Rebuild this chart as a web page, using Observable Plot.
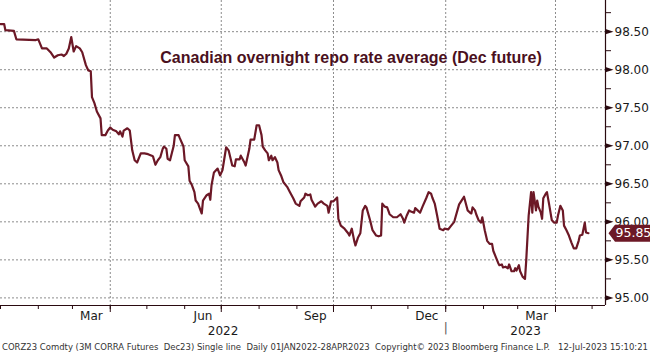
<!DOCTYPE html>
<html><head><meta charset="utf-8">
<script src="https://cdn.jsdelivr.net/npm/d3@7"></script>
<script src="https://cdn.jsdelivr.net/npm/@observablehq/plot@0.6"></script>
<style>
html,body{margin:0;padding:0;background:#fff;width:650px;height:355px;overflow:hidden;position:relative}
#footer{position:absolute;left:2px;top:341px;font-family:"DejaVu Sans";font-size:9.5px;color:#333;white-space:pre;transform-origin:0 0;line-height:12px}
</style></head><body>
<div id="chart"></div>
<div id="footer"></div>
<script>
const titleText = "Canadian overnight repo rate average (Dec future)";
const footerText = "CORZ23 Comdty (3M CORRA Futures  Dec23) Single line  Daily 01JAN2022-28APR2023  Copyright\u00A9 2023 Bloomberg Finance L.P.   12-Jul-2023 15:10:21";

const dates = [
 "2022-01-01","2022-01-04","2022-01-05","2022-01-12","2022-01-14","2022-01-30",
 "2022-02-01","2022-02-04","2022-02-08","2022-02-11","2022-02-14","2022-02-17","2022-02-20","2022-02-22","2022-02-24","2022-02-26","2022-02-28",
 "2022-03-02","2022-03-04","2022-03-07","2022-03-09","2022-03-12","2022-03-14","2022-03-16","2022-03-17","2022-03-19","2022-03-21","2022-03-24","2022-03-25","2022-03-28","2022-03-30",
 "2022-04-01","2022-04-03","2022-04-06","2022-04-08","2022-04-09","2022-04-11","2022-04-12","2022-04-15","2022-04-17","2022-04-19","2022-04-21","2022-04-23","2022-04-26","2022-04-29",
 "2022-05-02","2022-05-05","2022-05-06","2022-05-08","2022-05-10","2022-05-12","2022-05-14","2022-05-15","2022-05-17","2022-05-18","2022-05-20","2022-05-23","2022-05-24","2022-05-27","2022-05-28","2022-05-31",
 "2022-06-01","2022-06-04","2022-06-05","2022-06-07","2022-06-09","2022-06-10","2022-06-12","2022-06-14","2022-06-15","2022-06-16","2022-06-19","2022-06-21","2022-06-22","2022-06-23","2022-06-25","2022-06-28","2022-06-30",
 "2022-07-02","2022-07-03","2022-07-05","2022-07-07","2022-07-10","2022-07-12","2022-07-13","2022-07-16","2022-07-17","2022-07-20","2022-07-21","2022-07-24","2022-07-25","2022-07-28","2022-07-30",
 "2022-08-01","2022-08-03","2022-08-04","2022-08-06","2022-08-08","2022-08-09","2022-08-11","2022-08-12","2022-08-14","2022-08-16","2022-08-17","2022-08-19","2022-08-21","2022-08-24","2022-08-26","2022-08-29","2022-08-31",
 "2022-09-03","2022-09-04","2022-09-07","2022-09-08","2022-09-10","2022-09-12","2022-09-13","2022-09-16","2022-09-18","2022-09-21","2022-09-23","2022-09-26","2022-09-27","2022-09-29",
 "2022-10-01","2022-10-04","2022-10-05","2022-10-07","2022-10-10","2022-10-11","2022-10-13","2022-10-14","2022-10-16","2022-10-18","2022-10-19","2022-10-21","2022-10-23","2022-10-25","2022-10-27","2022-10-28","2022-10-31",
 "2022-11-02","2022-11-05","2022-11-07","2022-11-09","2022-11-10","2022-11-12","2022-11-14","2022-11-16","2022-11-19","2022-11-22","2022-11-25","2022-11-27","2022-11-28","2022-11-30",
 "2022-12-02","2022-12-03","2022-12-06","2022-12-07","2022-12-09","2022-12-11","2022-12-13","2022-12-16","2022-12-18","2022-12-20","2022-12-21","2022-12-23","2022-12-25","2022-12-27","2022-12-30","2022-12-31",
 "2023-01-03","2023-01-05","2023-01-08","2023-01-09","2023-01-12","2023-01-14","2023-01-16","2023-01-17","2023-01-19","2023-01-21","2023-01-22","2023-01-23","2023-01-25","2023-01-26","2023-01-28","2023-01-30","2023-01-31",
 "2023-02-02","2023-02-04","2023-02-06","2023-02-08","2023-02-09","2023-02-11","2023-02-13","2023-02-14","2023-02-16","2023-02-17","2023-02-19","2023-02-21","2023-02-22","2023-02-24","2023-02-26","2023-02-27","2023-02-28",
 "2023-03-02","2023-03-03","2023-03-05","2023-03-07","2023-03-08","2023-03-10","2023-03-12","2023-03-13","2023-03-14","2023-03-16","2023-03-17","2023-03-18","2023-03-20","2023-03-21","2023-03-22","2023-03-24","2023-03-25","2023-03-27","2023-03-29","2023-03-31",
 "2023-04-02","2023-04-03","2023-04-05","2023-04-07","2023-04-08","2023-04-10","2023-04-12","2023-04-14","2023-04-16","2023-04-18","2023-04-20","2023-04-21","2023-04-23","2023-04-25","2023-04-26","2023-04-28"
];
const values = [
 98.60,98.60,98.52,98.51,98.40,98.39,
 98.40,98.28,98.28,98.23,98.16,98.19,98.20,98.18,98.21,98.28,98.43,
 98.24,98.31,98.28,98.23,98.06,97.99,97.98,97.64,97.56,97.45,97.36,97.14,97.14,97.20,
 97.24,97.21,97.19,97.15,97.19,97.12,97.20,97.23,97.20,96.94,96.81,96.78,96.90,96.90,
 96.89,96.87,96.86,96.75,96.81,96.85,96.96,96.99,96.96,96.83,96.81,97.00,97.14,97.14,97.10,96.99,
 96.81,96.73,96.54,96.48,96.39,96.28,96.24,96.15,96.11,96.28,96.35,96.37,96.29,96.48,96.65,96.70,96.61,
 96.68,96.78,96.98,96.94,96.74,96.73,96.82,96.82,96.87,96.78,96.74,96.96,97.08,97.08,97.27,
 97.27,97.14,96.99,96.94,96.90,96.81,96.87,96.81,96.85,96.78,96.68,96.61,96.52,96.46,96.40,96.31,96.24,
 96.21,96.27,96.32,96.37,96.35,96.36,96.29,96.20,96.24,96.27,96.24,96.21,96.12,96.27,
 96.27,96.32,96.04,95.95,95.91,95.89,95.85,95.82,95.91,95.75,95.69,95.79,95.85,96.15,96.21,96.19,96.02,
 95.89,95.82,95.81,95.82,96.24,96.20,96.19,96.10,96.06,96.06,96.10,96.04,95.99,96.08,
 96.15,96.14,96.12,96.18,96.15,96.12,96.20,96.31,96.39,96.37,96.32,96.24,96.08,95.91,95.89,95.91,
 95.90,95.94,96.00,96.06,96.23,96.28,96.33,96.27,96.15,96.12,96.11,96.19,96.15,96.10,96.02,95.99,96.06,
 95.89,95.75,95.71,95.71,95.62,95.54,95.46,95.43,95.44,95.40,95.41,95.39,95.44,95.35,95.35,95.39,95.36,
 95.43,95.35,95.28,95.25,95.49,96.08,96.39,96.12,96.39,96.15,96.28,96.20,96.12,96.04,96.31,96.37,96.39,96.21,96.02,95.99,
 95.99,96.08,96.21,96.15,95.95,95.89,95.82,95.73,95.65,95.65,95.75,95.82,95.83,95.99,95.86,95.85
];
const yTicks = [95.0, 95.5, 96.0, 96.5, 97.0, 97.5, 98.0, 98.5];
const yMinorTicks = [95.25, 95.75, 96.25, 96.75, 97.25, 97.75, 98.25, 98.75];
const years = [2022, 2023];

const parse = d3.utcParse("%Y-%m-%d");
const n = Math.min(dates.length, values.length);
const data = d3.range(n).map(i => ({date: parse(dates[i]), value: values[i]}));
const last = data[data.length - 1];

const xDomain = [parse("2022-01-01"), parse("2023-05-12")];
const yDomain = [94.9, 98.91];

const monthTicks = d3.utcMonth.range(d3.utcMonth.ceil(xDomain[0]), xDomain[1]);
const quarterTicks = d3.utcMonth.every(3).range(parse("2022-02-01"), xDomain[1]);
const labelDates = quarterTicks.map(q => {
  const m0 = d3.utcMonth.offset(q, -1);
  return new Date((+m0 + +q) / 2);
});
const yearCenters = years.map(y => {
  const a = Math.max(+new Date(Date.UTC(y, 0, 1)), +xDomain[0]);
  const b = Math.min(+new Date(Date.UTC(y + 1, 0, 1)), +xDomain[1]);
  return new Date((a + b) / 2);
});
const yearBreaks = years.slice(1).map(y => new Date(Date.UTC(y, 0, 1)));

const lineColor = "#6c1826";
const axisColor = "#2a0a10";
const gridColor = "#8c8c8c";

const triSymbol = {draw(ctx) { ctx.moveTo(0, -2.6); ctx.lineTo(8, 0); ctx.lineTo(0, 2.6); ctx.closePath(); }};
const tagSymbol = {draw(ctx) { ctx.moveTo(3, 0); ctx.lineTo(9.5, -8.5); ctx.lineTo(46, -8.5); ctx.lineTo(46, 8.5); ctx.lineTo(9.5, 8.5); ctx.closePath(); }};

const chart = Plot.plot({
  width: 650, height: 340,
  marginLeft: 0, marginRight: 45, marginTop: 0, marginBottom: 35,
  x: {type: "utc", domain: xDomain, label: null},
  y: {domain: yDomain, label: null},
  style: {fontFamily: "DejaVu Sans", fontSize: "12px", background: "white", overflow: "visible", color: "#1a1a1a"},
  marks: [
    Plot.gridY(yTicks, {stroke: gridColor, strokeOpacity: 1, strokeDasharray: "2,2"}),
    Plot.gridX(quarterTicks, {stroke: gridColor, strokeOpacity: 1, strokeDasharray: "2,2"}),
    Plot.line(data, {x: "date", y: "value", stroke: lineColor, strokeWidth: 2.2, strokeLinejoin: "round"}),
    Plot.ruleY([yDomain[0]], {stroke: axisColor, strokeWidth: 1.2}),
    Plot.ruleX([xDomain[1]], {stroke: axisColor, strokeWidth: 1.2}),
    Plot.axisX(monthTicks, {tickSize: 4, tickFormat: () => "", stroke: axisColor}),
    Plot.axisX(quarterTicks, {tickSize: 7, tickFormat: () => "", stroke: axisColor}),
    Plot.axisX(labelDates, {tickSize: 0, tickPadding: 6, tickFormat: "%b", fontSize: 12, fill: "#1a1a1a"}),
    Plot.axisX(yearCenters, {tickSize: 0, tickPadding: 21, tickFormat: "%Y", fontSize: 12, fill: "#1a1a1a"}),
    Plot.text(yearBreaks, {x: d => d, text: () => "|", frameAnchor: "bottom", dy: 26, fontSize: 12, fill: "#555"}),
    Plot.axisY(yMinorTicks, {anchor: "right", tickSize: 5, tickFormat: () => "", stroke: axisColor}),
    Plot.axisY(yTicks, {anchor: "right", tickSize: 0, tickPadding: 9, tickFormat: d3.format(".2f"), fontSize: 12, fill: "#1a1a1a"}),
    Plot.dot(yTicks, {y: d => d, frameAnchor: "right", symbol: triSymbol, r: 3, fill: axisColor, stroke: "none"}),
    Plot.text([titleText], {text: d => d, frameAnchor: "top", lineAnchor: "middle", dx: 48, dy: 57, fontFamily: "Liberation Sans", fontWeight: "bold", fontSize: 16, fill: "#4a1020"}),
    Plot.dot([last], {y: "value", frameAnchor: "right", symbol: tagSymbol, r: 3, fill: lineColor, stroke: "none"}),
    Plot.text([last], {y: "value", frameAnchor: "right", text: d => d3.format(".2f")(d.value), textAnchor: "start", dx: 10, fontSize: 12.5, fill: "white"})
  ]
});
document.getElementById("chart").appendChild(chart);

const f = document.getElementById("footer");
f.textContent = footerText;
const w = f.getBoundingClientRect().width;
f.style.transform = `scaleX(${646 / w})`;
</script></body></html>
